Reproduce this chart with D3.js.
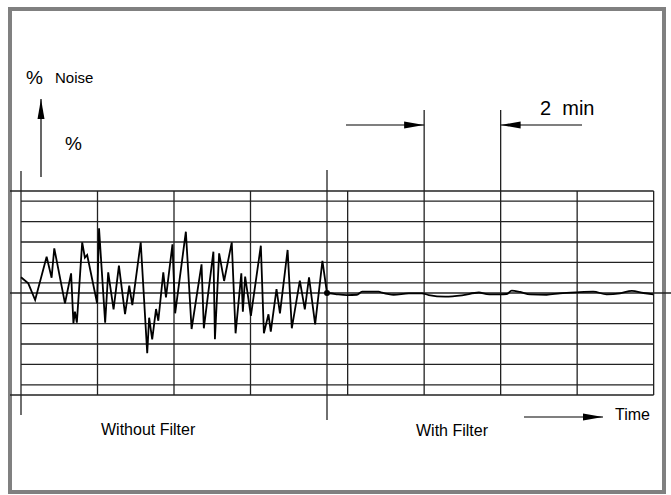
<!DOCTYPE html>
<html>
<head>
<meta charset="utf-8">
<script src="https://cdn.jsdelivr.net/npm/d3@7"></script>
<style>
  body { margin: 0; background: #fff; }
  text { font-family: "Liberation Sans", Arial, sans-serif; fill: #000; }
</style>
</head>
<body>
<div id="chart"></div>
<script>
// time in minutes, noise in % (grid step = 2 min horizontally)
var rawTime = [0, 0.19, 0.37, 0.67, 0.80, 0.87, 1.15, 1.31, 1.37, 1.41, 1.46, 1.60, 1.67, 1.73, 1.99,
  2.04, 2.20, 2.28, 2.42, 2.56, 2.72, 2.83, 2.91, 3.13, 3.30, 3.35, 3.43, 3.53, 3.59, 3.72, 3.79, 3.96,
  4.03, 4.31, 4.46, 4.72, 4.78, 5.03, 5.07, 5.18, 5.31, 5.51, 5.61, 5.76, 5.80, 5.86, 6.01,
  6.27, 6.35, 6.47, 6.53, 6.68, 6.77, 6.97, 7.08, 7.29, 7.42, 7.53, 7.69, 7.88, 8.0];
var rawNoise = [1.54, 0.95, -0.69, 3.56, 1.5, 4.38, -1.01, 1.93, -2.97, -1.83, -2.91, 4.97, 3.46, 3.73, -1.01,
  6.34, -2.91, 2.03, -1.6, 2.68, -2.06, 0.72, -1.18, 4.97, -5.91, -2.42, -4.54, -1.57, -2.72, 2.03, -0.42, 4.77,
  -1.99, 6.01, -3.53, 2.81, -3.46, 4.05, -4.54, 3.89, 1.18, 4.97, -3.95, 1.93, -1.83, 1.6, -2.25,
  4.64, -3.95, -2.09, -3.79, 0.39, -1.99, 4.22, -3.46, 1.21, -1.6, 1.54, -3.07, 3.14, 0];

var filtTime = [8.0, 8.22, 8.52, 8.78, 8.92, 9.35, 9.44, 9.74, 10.14, 10.48, 10.66, 11.09, 11.53, 11.97,
  12.18, 12.31, 12.52, 12.70, 12.83, 13.05, 13.31, 13.74, 14.09, 14.53, 14.96, 15.31, 15.66, 15.97, 16.27, 16.53];
var filtNoise = [0, -0.1, -0.2, -0.17, 0.13, 0.13, 0.03, -0.17, -0.03, -0.03, -0.2, -0.36, -0.23, 0.05,
  -0.1, -0.13, -0.13, -0.1, 0.23, 0.1, -0.13, -0.17, -0.03, 0.07, 0.13, -0.13, -0.03, 0.2, 0, -0.13];

var gridTimesLeft = [0, 2, 4, 6];
var gridTimesRight = [8.54, 10.54, 12.54, 14.54, 16.54];
var dividerTime = 8;
var gridLevels = [-9, -7, -5, -3, -1, 1, 3, 5, 7, 9];
var outerLevels = [-10, 10];
var markerFrom = 10.54, markerTo = 12.54;

var width = 671, height = 495;

var x = d3.scaleLinear().domain([0, 8]).range([21, 327]);
var y = d3.scaleLinear().domain([-10, 10]).range([395, 191]);

var svg = d3.select("#chart").append("svg")
  .attr("width", width)
  .attr("height", height);

svg.append("defs").append("marker")
  .attr("id", "head")
  .attr("viewBox", "0 0 20 8")
  .attr("refX", 20).attr("refY", 4)
  .attr("markerWidth", 20).attr("markerHeight", 8)
  .attr("markerUnits", "userSpaceOnUse")
  .attr("orient", "auto")
  .append("path").attr("d", "M0,0.5L20,4L0,7.5Z").attr("fill", "#000");

// frame
svg.append("rect")
  .attr("x", 10).attr("y", 9)
  .attr("width", 654).attr("height", 483)
  .attr("fill", "none").attr("stroke", "#808080").attr("stroke-width", 4);

var grid = svg.append("g").attr("stroke", "#222").attr("stroke-width", 1.3);
var xEnd = x(16.54);

grid.selectAll(".h").data(gridLevels).enter().append("line")
  .attr("x1", x(0)).attr("x2", xEnd)
  .attr("y1", function(d){ return y(d); }).attr("y2", function(d){ return y(d); });

grid.selectAll(".o").data(outerLevels).enter().append("line")
  .attr("x1", 10).attr("x2", xEnd)
  .attr("y1", function(d){ return y(d); }).attr("y2", function(d){ return y(d); });

// zero line runs past the frame
grid.append("line")
  .attr("x1", 10).attr("x2", width)
  .attr("y1", y(0)).attr("y2", y(0));

grid.selectAll(".vl").data(gridTimesLeft.slice(1)).enter().append("line")
  .attr("x1", function(d){ return x(d); }).attr("x2", function(d){ return x(d); })
  .attr("y1", y(10)).attr("y2", y(-10));

grid.selectAll(".vr").data(gridTimesRight).enter().append("line")
  .attr("x1", function(d){ return x(d); }).attr("x2", function(d){ return x(d); })
  .attr("y1", function(d){ return (d == markerFrom || d == markerTo) ? 110 : y(10); })
  .attr("y2", y(-10));

// first line and the divider stick out
grid.append("line").attr("x1", x(0)).attr("x2", x(0)).attr("y1", 171).attr("y2", 415);
grid.append("line").attr("x1", x(dividerTime)).attr("x2", x(dividerTime)).attr("y1", 170).attr("y2", 420);

// signals
var line = d3.line()
  .x(function(d){ return x(d[0]); })
  .y(function(d){ return y(d[1]); });

svg.append("path")
  .datum(d3.zip(rawTime, rawNoise))
  .attr("d", line)
  .attr("fill", "none").attr("stroke", "#000").attr("stroke-width", 1.8);

svg.append("path")
  .datum(d3.zip(filtTime, filtNoise))
  .attr("d", line.curve(d3.curveMonotoneX))
  .attr("fill", "none").attr("stroke", "#000").attr("stroke-width", 1.8);

svg.append("circle")
  .attr("cx", x(dividerTime)).attr("cy", y(0)).attr("r", 3).attr("fill", "#000");

// arrows
var arrows = svg.append("g").attr("stroke", "#000").attr("stroke-width", 1.2);
arrows.append("line").attr("x1", 41).attr("y1", 177).attr("x2", 41).attr("y2", 99).attr("marker-end", "url(#head)");
arrows.append("line").attr("x1", 346).attr("y1", 125).attr("x2", x(markerFrom)).attr("y2", 125).attr("marker-end", "url(#head)");
arrows.append("line").attr("x1", 582).attr("y1", 125).attr("x2", x(markerTo)).attr("y2", 125).attr("marker-end", "url(#head)");
arrows.append("line").attr("x1", 524).attr("y1", 417).attr("x2", 603).attr("y2", 417).attr("marker-end", "url(#head)");

// labels
svg.append("text").attr("x", 26).attr("y", 84).style("font-size", "19px").text("%");
svg.append("text").attr("x", 55).attr("y", 83).style("font-size", "15px").text("Noise");
svg.append("text").attr("x", 65).attr("y", 150).style("font-size", "19px").text("%");
svg.append("text").attr("x", 540).attr("y", 115).style("font-size", "20px").style("white-space", "pre").text("2  min");
svg.append("text").attr("x", 101).attr("y", 435).style("font-size", "16px").text("Without Filter");
svg.append("text").attr("x", 416).attr("y", 436).style("font-size", "16px").text("With Filter");
svg.append("text").attr("x", 615).attr("y", 420).style("font-size", "16px").text("Time");
</script>
</body>
</html>
